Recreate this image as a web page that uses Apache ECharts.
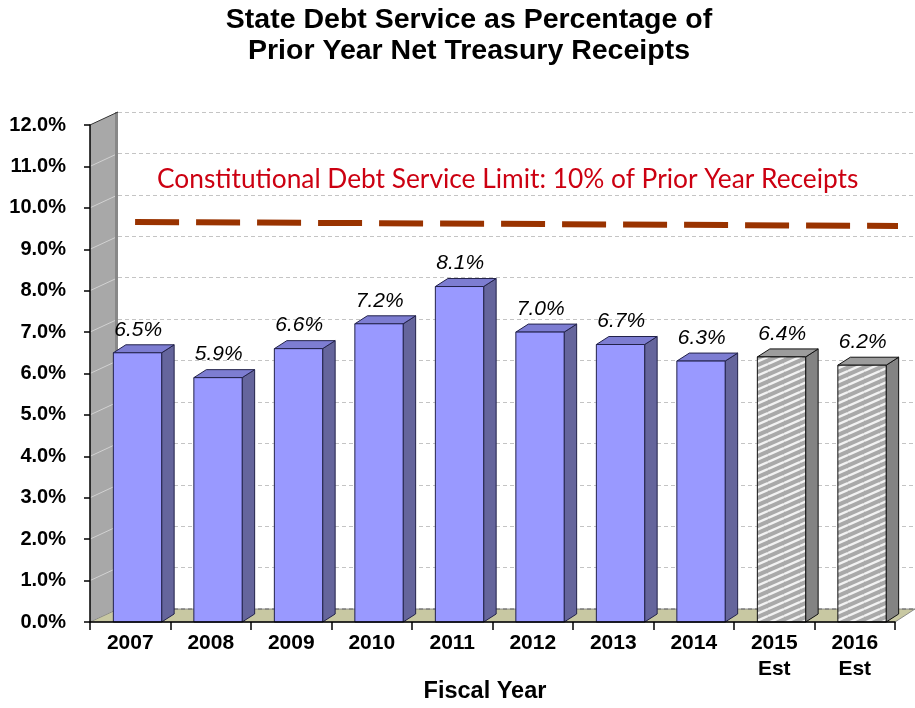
<!DOCTYPE html>
<html>
<head>
<meta charset="utf-8">
<script src="https://cdn.jsdelivr.net/npm/echarts@6/dist/echarts.min.js"></script>
<style>html,body{margin:0;padding:0;background:#fff}#c{width:915px;height:708px}</style>
</head>
<body>
<div id="c"></div>
<script>
// ---- data ----
const categories = ['2007','2008','2009','2010','2011','2012','2013','2014','2015\nEst','2016\nEst'];
const debtPct = [6.5, 5.9, 6.6, 7.2, 8.1, 7.0, 6.7, 6.3, 6.4, 6.2];
const estimated = [false, false, false, false, false, false, false, false, true, true];
const limitLine = [[0.56, 9.66], [10.25, 9.56]];
const yMin = 0, yMax = 12, yStep = 1;
const yTicks = [0,1,2,3,4,5,6,7,8,9,10,11,12];
const titleText = 'State Debt Service as Percentage of\nPrior Year Net Treasury Receipts';
const limitText = 'Constitutional Debt Service Limit: 10% of Prior Year Receipts';
const xName = 'Fiscal Year';

const FONT = '"Liberation Sans", Arial, sans-serif';

// hatch pattern
function makeHatch(){
  const c = document.createElement('canvas');
  const w = 16, h = 7;
  c.width = w; c.height = h;
  const ctx = c.getContext('2d');
  ctx.fillStyle = '#a9a9a9';
  ctx.fillRect(0,0,w,h);
  ctx.strokeStyle = '#f2f2f2';
  ctx.lineWidth = 2.4;
  [-h, 0, h].forEach(o => {
    ctx.beginPath();
    ctx.moveTo(0, h + o);
    ctx.lineTo(w, 0 + o);
    ctx.stroke();
  });
  return c;
}
const hatch = { image: makeHatch(), repeat: 'repeat' };

const chart = echarts.init(document.getElementById('c'), null, {renderer: 'canvas'});

const WALL_DX = 28, WALL_DY = -13;

function renderWalls(params, api){
  const cs = params.coordSys;
  const L = cs.x, T = cs.y, W = cs.width, B = cs.y + cs.height;
  const ch = [];
  ch.push({type:'polygon', shape:{points:[[L,T],[L+WALL_DX,T+WALL_DY],[L+WALL_DX,B+WALL_DY],[L,B]]},
    style:{fill:'#a8a8a8'}});
  yTicks.forEach(t => {
    const y = api.coord([0, t])[1];
    ch.push({type:'line', shape:{x1:L, y1:y, x2:L+WALL_DX, y2:y+WALL_DY}, style:{stroke:'#d2d2d2', lineWidth:1}});
  });
  ch.push({type:'line', shape:{x1:L+WALL_DX-1.5, y1:T+WALL_DY, x2:L+WALL_DX-1.5, y2:B+WALL_DY}, style:{stroke:'#888', lineWidth:3}});
  ch.push({type:'line', shape:{x1:L, y1:T, x2:L+WALL_DX, y2:T+WALL_DY}, style:{stroke:'#333', lineWidth:1}});
  ch.push({type:'polygon', shape:{points:[[L,B],[L+WALL_DX,B+WALL_DY],[L+W+20,B+WALL_DY],[L+W,B]]},
    style:{fill:'#c8c8a2', stroke:'#777', lineWidth:0.8}});
  ch.push({type:'line', shape:{x1:L+WALL_DX, y1:B+WALL_DY, x2:L+W+20, y2:B+WALL_DY},
    style:{stroke:'#666', lineWidth:1, lineDash:[4,3]}});
  return {type:'group', children: ch};
}

function renderBar(params, api){
  const i = api.value(0), v = api.value(1);
  const top = api.coord([i, v]);
  const bot = api.coord([i, 0]);
  const band = api.size([1, 0])[0];
  const x0 = top[0] - 0.21 * band, x1 = x0 + 0.6 * band;
  const dx = 12.5, dy = -8;
  const y0 = top[1], yb = bot[1];
  const est = estimated[params.dataIndex];
  const front = est ? hatch : '#9999ff';
  const side = est ? '#838383' : '#65659c';
  const topc = est ? '#9c9c9c' : '#7d7dd2';
  const stroke = est ? '#111' : '#22224a';
  return {type:'group', children:[
    {type:'polygon', shape:{points:[[x1,y0],[x1+dx,y0+dy],[x1+dx,yb+dy],[x1,yb]]}, style:{fill:side, stroke:stroke, lineWidth:1}},
    {type:'polygon', shape:{points:[[x0,y0],[x0+dx,y0+dy],[x1+dx,y0+dy],[x1,y0]]}, style:{fill:topc, stroke:stroke, lineWidth:1}},
    {type:'rect', shape:{x:x0, y:y0, width:x1-x0, height:yb-y0}, style:{fill:front, stroke:stroke, lineWidth:1}},
    {type:'text', style:{text: v.toFixed(1) + '%', x: top[0] + 8, y: y0 - 23, align:'center', verticalAlign:'middle',
      fontFamily: FONT, fontStyle:'italic', fontSize: 21, fill:'#000'}}
  ]};
}

const option = {
  animation: false,
  backgroundColor: '#fff',
  grid: [
    {left: 90, top: 125, width: 805, height: 497},
    {left: 118, top: 112, width: 805, height: 497}
  ],
  xAxis: [
    {gridIndex: 0, type: 'category', data: categories, boundaryGap: true, z: 10,
     axisLine: {show: true, lineStyle: {color: '#000', width: 1.5}},
     axisTick: {show: true, interval: 0, length: 8, lineStyle: {color: '#000', width: 1.5}},
     axisLabel: {interval: 0, margin: 8, color: '#000', fontFamily: FONT, fontWeight: 'bold', fontSize: 21, lineHeight: 26},
     splitLine: {show: false}},
    {gridIndex: 0, type: 'value', min: 0, max: 10, show: false},
    {gridIndex: 1, type: 'value', min: 0, max: 10, position: 'top',
     axisLine: {show: true, lineStyle: {color: '#888', type: [4,3], width: 1}},
     axisTick: {show: false}, axisLabel: {show: false}, splitLine: {show: false}}
  ],
  yAxis: [
    {gridIndex: 0, type: 'value', min: yMin, max: yMax, interval: yStep, z: 10,
     axisLine: {show: true, lineStyle: {color: '#000', width: 1.5}},
     axisTick: {show: true, length: 6, lineStyle: {color: '#000', width: 1.5}},
     axisLabel: {margin: 24, color: '#000', fontFamily: FONT, fontWeight: 'bold', fontSize: 20,
       formatter: v => v.toFixed(1) + '%'},
     splitLine: {show: false}},
    {gridIndex: 1, type: 'value', min: yMin, max: yMax, interval: yStep,
     axisLine: {show: false}, axisTick: {show: false}, axisLabel: {show: false},
     splitLine: {show: true, lineStyle: {color: '#c4c4c4', type: [4,3], width: 1}}}
  ],
  graphic: [
    {type: 'text', z: 5, style: {text: titleText, x: 469, y: 5, align: 'center', verticalAlign: 'top',
      fontFamily: FONT, fontWeight: 'bold', fontSize: 28.5, lineHeight: 31, fill: '#000'}},
    {type: 'text', z: 5, style: {text: limitText, x: 157, y: 180, align: 'left', verticalAlign: 'middle',
      fontFamily: 'Lato, "Open Sans", sans-serif', fontSize: 26.3, fill: '#cc0011'}},
    {type: 'text', z: 5, style: {text: xName, x: 485, y: 692, align: 'center', verticalAlign: 'middle',
      fontFamily: FONT, fontWeight: 'bold', fontSize: 23.5, fill: '#000'}}
  ],
  series: [
    {type: 'custom', name: 'walls', xAxisIndex: 0, yAxisIndex: 0, z: 1, silent: true,
     renderItem: renderWalls, data: [[0, 0]]},
    {type: 'line', name: 'limit', xAxisIndex: 1, yAxisIndex: 0, z: 2, clip: false, silent: true,
     symbol: 'none', data: limitLine,
     lineStyle: {color: '#993300', width: 6, type: [44, 17], cap: 'butt'}},
    {type: 'custom', name: 'debt', xAxisIndex: 0, yAxisIndex: 0, z: 3,
     renderItem: renderBar, encode: {x: 0, y: 1},
     data: debtPct.map((v, i) => [i, v])}
  ]
};
chart.setOption(option);
</script>
</body>
</html>
